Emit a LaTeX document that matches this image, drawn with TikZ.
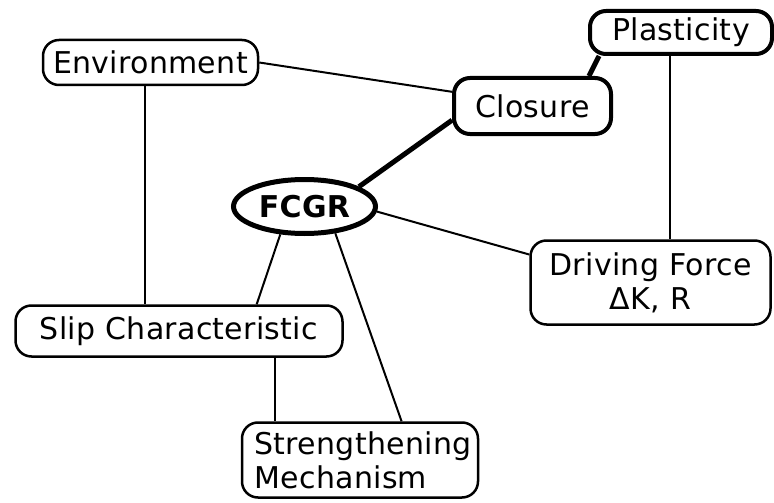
\documentclass[tikz,border=0pt]{standalone}
\usepackage{fontspec}
\setmainfont{DejaVu Sans}[LetterSpace=1]
\usetikzlibrary{shapes.geometric}
\begin{document}
\begin{tikzpicture}[x=1pt,y=-1pt,
  every node/.style={font=\fontsize{30}{34}\selectfont, inner sep=0pt},
  box/.style={draw, line width=2.5pt, rounded corners=16pt},
  heavybox/.style={draw, line width=4pt, rounded corners=16pt},
  thin/.style={line width=2pt},
  heavy/.style={line width=5pt}]
\useasboundingbox (0,0) rectangle (774,503);
\node[box, minimum width=215pt, minimum height=45pt] (env) at (150.5,62.5) {Environment};
\node[heavybox, minimum width=157pt, minimum height=56pt] (clo) at (532.5,106) {Closure};
\node[heavybox, minimum width=182pt, minimum height=43pt] (pla) at (681,32.5) {Plasticity};
\node[draw, ellipse, line width=5pt, minimum width=142pt, minimum height=54pt, font=\fontsize{30}{34}\selectfont\bfseries] (fcgr) at (304.5,206.5) {FCGR};
\node[box, minimum width=240pt, minimum height=84pt, align=center] (drv) at (650.5,282.5) {Driving Force\\ΔK, R};
\node[box, minimum width=236pt, minimum height=75pt, align=left] (str) at (360,460) {\hspace*{6pt}Strengthening\\\hspace*{6pt}Mechanism};
\node[box, minimum width=327pt, minimum height=51pt] (slip) at (179,331) {Slip Characteristic};

\draw[thin] (env.east) -- (clo.170);
\draw[heavy] (clo.28) -- (pla.196);
\draw[heavy] (clo.190) -- (fcgr.20);
\draw[thin] (fcgr.-4) -- (drv.167);
\draw[thin] (fcgr.229) -- (slip.19);
\draw[thin] (fcgr.319) -- (str.43);
\draw[thin] ([xshift=-5.5pt]env.south) -- ([xshift=-5.5pt]env.south |- slip.north);
\draw[thin] ([xshift=96pt]slip.south) -- ([xshift=96pt]slip.south |- str.north);
\draw[thin] ([xshift=-11pt]pla.south) -- ([xshift=-11pt]pla.south |- drv.north);
\end{tikzpicture}
\end{document}
